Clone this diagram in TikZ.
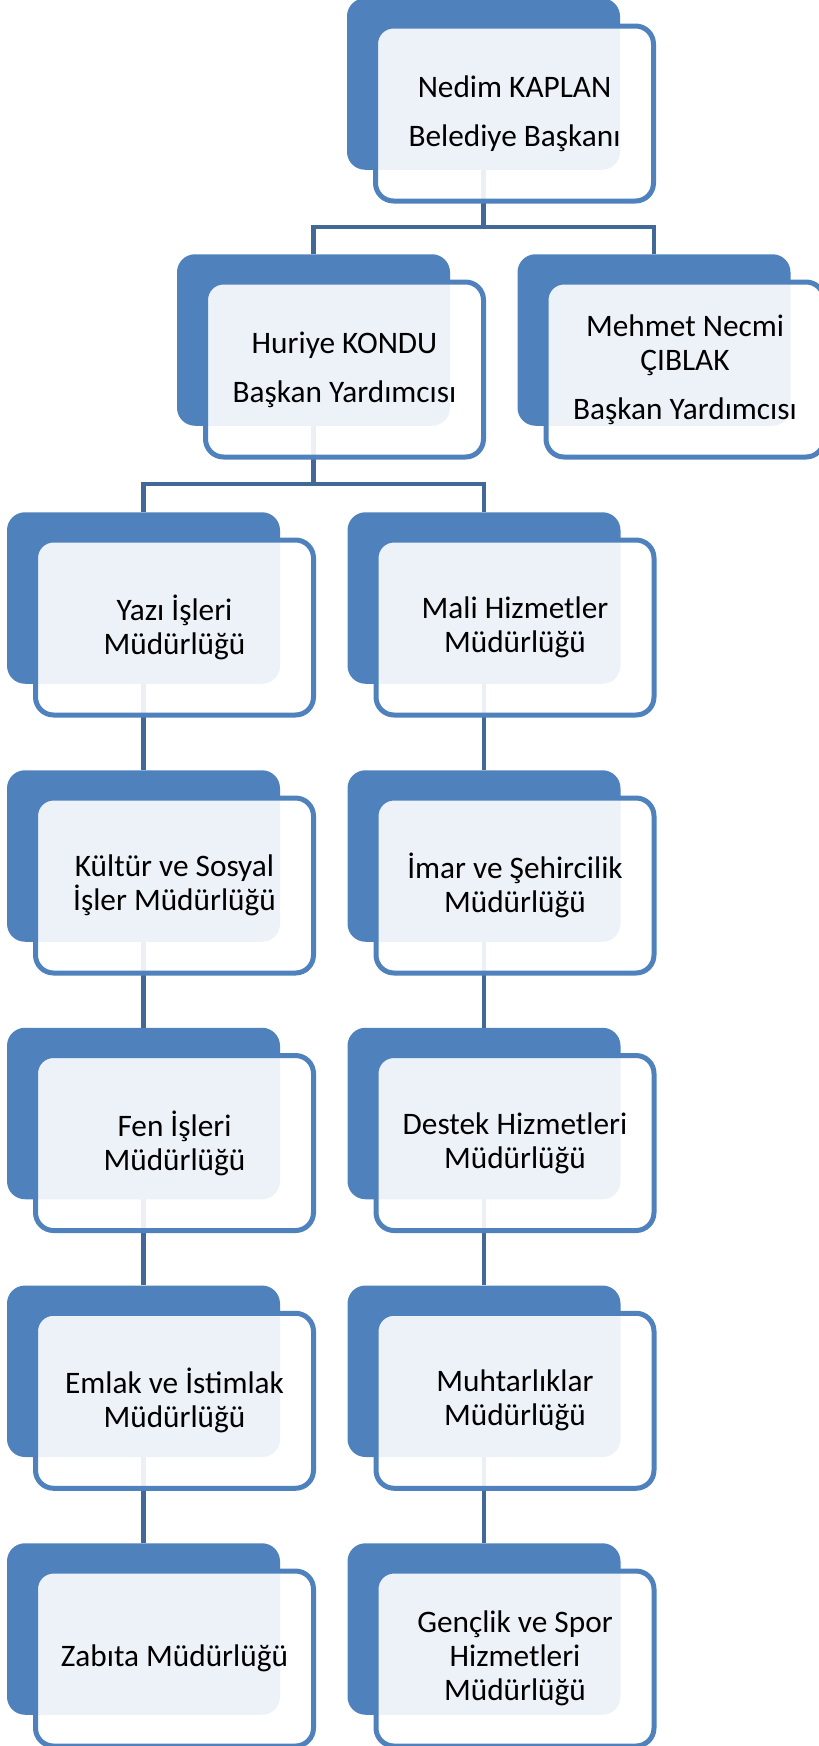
\documentclass[tikz,border=0pt]{standalone}
\usepackage{fontspec}
\setmainfont{Carlito}
\definecolor{boxblue}{HTML}{4F81BD}
\definecolor{linkblue}{HTML}{426898}
\begin{document}
\begin{tikzpicture}[x=1pt,y=-1pt,
  backbox/.style={fill=boxblue, rounded corners=18pt, minimum width=273pt,
    minimum height=171.5pt, inner sep=0pt},
  frontbox/.style={draw=boxblue, line width=5pt, fill=white, fill opacity=0.9,
    text opacity=1, rounded corners=18pt, minimum width=278pt,
    minimum height=175pt, inner sep=0pt, align=center,
    font=\fontsize{31.3}{34}\selectfont},
  link/.style={draw=linkblue, line width=4.5pt}]
\useasboundingbox (0,0) rectangle (819,1746);

% back (filled) shapes
\node[backbox] (b0) at (483.5,84) {};
\node[backbox] (b1) at (313.5,340) {};
\node[backbox] (b2) at (654,340) {};
\node[backbox] (l1) at (143.5,598) {};
\node[backbox] (l2) at (143.5,856) {};
\node[backbox] (l3) at (143.5,1113.5) {};
\node[backbox] (l4) at (143.5,1371.25) {};
\node[backbox] (l5) at (143.5,1629) {};
\node[backbox] (r1) at (484,598) {};
\node[backbox] (r2) at (484,856) {};
\node[backbox] (r3) at (484,1113.5) {};
\node[backbox] (r4) at (484,1371.25) {};
\node[backbox] (r5) at (484,1629) {};

% connectors
\draw[link] (b0.south) -- ++(0,57) -| (b1.north);
\draw[link] (b0.south) ++(0,57) -| (b2.north);
\draw[link] (b1.south) -- ++(0,58) -| (l1.north);
\draw[link] (b1.south) ++(0,58) -| (r1.north);
\draw[link] (l1.south) -- (l2.north);
\draw[link] (l2.south) -- (l3.north);
\draw[link] (l3.south) -- (l4.north);
\draw[link] (l4.south) -- (l5.north);
\draw[link] (r1.south) -- (r2.north);
\draw[link] (r2.south) -- (r3.north);
\draw[link] (r3.south) -- (r4.north);
\draw[link] (r4.south) -- (r5.north);

% front (outlined) shapes with the texts
\tikzset{front at/.style={at={([shift={(31,29.5)}]#1.center)}}}
\node[frontbox, front at=b0] (f0) {Nedim KAPLAN\\[15pt]Belediye Başkanı};
\node[frontbox, front at=b1] (f1) {Huriye KONDU\\[15pt]Başkan Yardımcısı};
\node[frontbox, front at=b2] (f2) {Mehmet Necmi\\ÇIBLAK\\[15pt]Başkan Yardımcısı};
\node[frontbox, front at=l1] (fl1) {Yazı İşleri\\Müdürlüğü};
\node[frontbox, front at=l2] (fl2) {Kültür ve Sosyal\\İşler Müdürlüğü};
\node[frontbox, front at=l3] (fl3) {Fen İşleri\\Müdürlüğü};
\node[frontbox, front at=l4] (fl4) {Emlak ve İstimlak\\Müdürlüğü};
\node[frontbox, front at=l5] (fl5) {Zabıta Müdürlüğü};
\node[frontbox, front at=r1] (fr1) {Mali Hizmetler\\Müdürlüğü};
\node[frontbox, front at=r2] (fr2) {İmar ve Şehircilik\\Müdürlüğü};
\node[frontbox, front at=r3] (fr3) {Destek Hizmetleri\\Müdürlüğü};
\node[frontbox, front at=r4] (fr4) {Muhtarlıklar\\Müdürlüğü};
\node[frontbox, front at=r5] (fr5) {Gençlik ve Spor\\Hizmetleri\\Müdürlüğü};
\end{tikzpicture}
\end{document}
